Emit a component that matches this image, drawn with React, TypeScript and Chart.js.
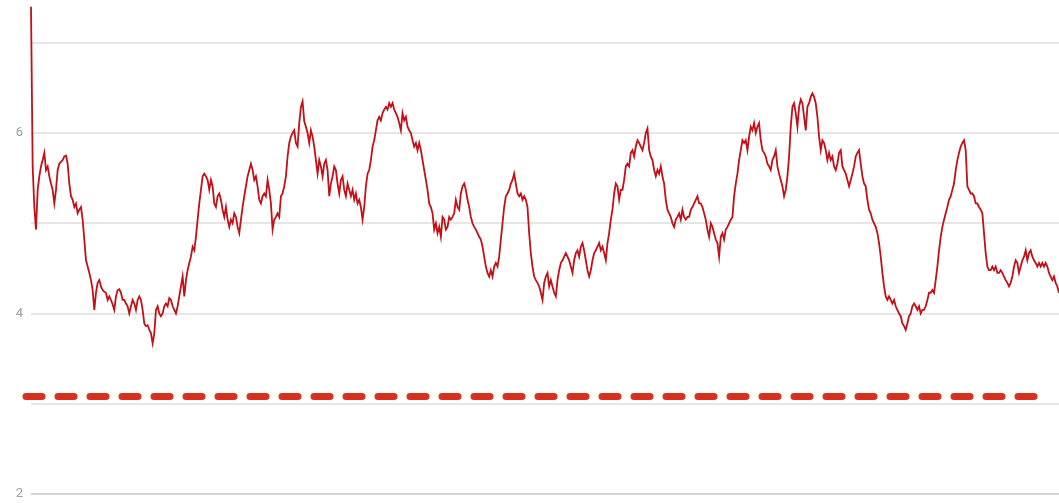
import React, { useEffect, useRef } from "react";
import { Chart, registerables } from "chart.js";

Chart.register(...registerables);

// Series values, left to right (evenly spaced samples)
const segmentA = [
  7.40, 5.63, 5.18, 4.93, 5.37, 5.52, 5.63, 5.70, 5.78, 5.59, 5.63, 5.52, 5.44, 5.37, 5.22, 5.37,
  5.59, 5.66, 5.68, 5.70, 5.74, 5.75, 5.66, 5.44, 5.30, 5.26, 5.18, 5.22, 5.11, 5.15, 5.18, 5.04,
  4.82, 4.59, 4.52, 4.45, 4.37, 4.26, 4.04, 4.23, 4.34, 4.37, 4.30, 4.26, 4.24, 4.23, 4.15, 4.19,
  4.15, 4.10, 4.04, 4.19, 4.26, 4.27, 4.23, 4.15, 4.15, 4.11, 4.08, 4.00, 4.08, 4.15, 4.11, 4.04,
  4.15, 4.19, 4.15, 4.04, 3.89, 3.86, 3.87, 3.82, 3.78, 3.67, 3.78, 4.04, 4.08, 4.00,
];
const segmentB = [
  3.97, 4.00, 4.08, 4.11, 4.08, 4.17, 4.15, 4.08, 4.04, 4.00, 4.08, 4.19, 4.30, 4.41, 4.19, 4.37,
  4.48, 4.56, 4.63, 4.74, 4.70, 4.85, 5.04, 5.22, 5.37, 5.52, 5.55, 5.52, 5.48, 5.37, 5.48, 5.41,
  5.22, 5.18, 5.30, 5.33, 5.26, 5.15, 5.07, 5.18, 5.04, 4.96, 5.04, 5.00, 5.11, 5.07, 4.96, 4.89,
  5.04, 5.18, 5.30, 5.41, 5.52, 5.59, 5.66, 5.59, 5.48, 5.52, 5.41, 5.26, 5.22, 5.30, 5.33, 5.30,
  5.48, 5.37, 5.22, 4.93, 5.04, 5.07, 5.11, 5.07, 5.30, 5.33, 5.41, 5.52, 5.74, 5.89, 5.96, 6.00,
  6.03,
];
const segmentC = [
  5.89, 5.85, 6.11, 6.29, 6.35, 6.13, 6.07, 6.00, 5.89, 6.03, 5.96, 5.85, 5.70, 5.55, 5.70, 5.63,
  5.52, 5.66, 5.70, 5.59, 5.30, 5.44, 5.52, 5.63, 5.59, 5.44, 5.33, 5.48, 5.52, 5.37, 5.30, 5.44,
  5.37, 5.30, 5.37, 5.26, 5.33, 5.22, 5.26, 5.18, 5.04, 5.18, 5.41, 5.55, 5.59, 5.70, 5.85, 5.92,
  6.03, 6.14, 6.18, 6.14, 6.22, 6.26, 6.29, 6.26, 6.33, 6.29, 6.33, 6.26, 6.22, 6.18, 6.11, 6.03,
  6.22, 6.14, 6.18, 6.07, 6.03, 6.00, 5.92, 5.85, 5.89, 5.81, 5.89, 5.81, 5.70, 5.59, 5.48, 5.37,
  5.22,
];
const segmentD = [
  5.18, 5.11, 4.93, 5.00, 4.89, 4.96, 4.85, 5.07, 5.04, 4.93, 4.96, 5.07, 5.04, 5.07, 5.11, 5.26,
  5.18, 5.15, 5.33, 5.41, 5.44, 5.37, 5.26, 5.18, 5.07, 5.00, 4.96, 4.93, 4.89, 4.85, 4.82, 4.74,
  4.63, 4.52, 4.45, 4.41, 4.48, 4.41, 4.52, 4.56, 4.52, 4.63, 4.82, 5.00, 5.18, 5.30, 5.33, 5.37,
  5.44, 5.48, 5.55, 5.44, 5.33, 5.30, 5.33, 5.26, 5.30, 5.26, 5.18, 4.89, 4.67, 4.52, 4.41, 4.37,
  4.34, 4.30, 4.23, 4.15, 4.34, 4.41, 4.45, 4.30, 4.37, 4.30, 4.23, 4.19, 4.37, 4.48, 4.56, 4.59,
  4.63,
];
const segmentE = [
  4.67, 4.63, 4.59, 4.52, 4.45, 4.59, 4.67, 4.70, 4.63, 4.74, 4.78, 4.70, 4.59, 4.48, 4.41, 4.48,
  4.59, 4.67, 4.70, 4.74, 4.78, 4.70, 4.74, 4.67, 4.59, 4.78, 4.89, 5.04, 5.15, 5.33, 5.44, 5.41,
  5.26, 5.37, 5.37, 5.48, 5.63, 5.66, 5.63, 5.78, 5.81, 5.74, 5.85, 5.92, 5.89, 5.85, 5.81, 5.89,
  6.00, 6.05, 5.81, 5.74, 5.70, 5.59, 5.52, 5.59, 5.55, 5.63, 5.52, 5.44, 5.26, 5.15, 5.11, 5.07,
  5.00, 4.96, 5.04, 5.07, 5.11, 5.04, 5.15, 5.07, 5.04, 5.07, 5.07, 5.15, 5.18, 5.22, 5.26, 5.30,
  5.22,
];
const segmentF = [
  5.22, 5.18, 5.11, 5.04, 4.93, 4.85, 5.00, 4.96, 4.89, 4.82, 4.78, 4.63, 4.85, 4.89, 4.82, 4.93,
  4.96, 5.00, 5.04, 5.07, 5.30, 5.44, 5.55, 5.70, 5.81, 5.92, 5.89, 5.92, 5.81, 5.96, 6.07, 6.03,
  6.11, 6.00, 6.07, 6.11, 5.92, 5.81, 5.78, 5.74, 5.66, 5.63, 5.59, 5.70, 5.74, 5.81, 5.63, 5.55,
  5.48, 5.41, 5.30, 5.37, 5.52, 5.74, 6.07, 6.29, 6.33, 6.22, 6.07, 6.29, 6.37, 6.33, 6.18, 6.03,
  6.29, 6.33, 6.40, 6.44, 6.40, 6.33, 6.18, 5.96, 5.81, 5.92, 5.89, 5.81, 5.70, 5.78, 5.70, 5.74,
  5.63,
];
const segmentG = [
  5.59, 5.66, 5.78, 5.81, 5.63, 5.59, 5.55, 5.48, 5.41, 5.48, 5.55, 5.63, 5.74, 5.78, 5.81, 5.66,
  5.52, 5.44, 5.41, 5.26, 5.15, 5.11, 5.04, 5.00, 4.96, 4.89, 4.78, 4.63, 4.45, 4.30, 4.19, 4.15,
  4.19, 4.15, 4.11, 4.15, 4.08, 4.04, 4.00, 3.97, 3.89, 3.86, 3.82, 3.89, 3.97, 4.00, 4.08, 4.11,
  4.08, 4.04, 4.08, 4.00, 4.04, 4.04, 4.08, 4.15, 4.23, 4.23, 4.26, 4.23, 4.37, 4.52, 4.70, 4.85,
  4.96, 5.04, 5.11, 5.18, 5.26, 5.30, 5.37, 5.44, 5.59, 5.70, 5.78,
];
const segmentH = [
  5.85, 5.89, 5.92, 5.81, 5.41, 5.37, 5.33, 5.33, 5.30, 5.22, 5.22, 5.18, 5.15, 5.11, 4.89, 4.67,
  4.52, 4.48, 4.48, 4.52, 4.48, 4.52, 4.45, 4.45, 4.48, 4.45, 4.41, 4.37, 4.34, 4.30, 4.34, 4.41,
  4.52, 4.59, 4.56, 4.45, 4.52, 4.59, 4.63, 4.70, 4.59, 4.67, 4.70, 4.63, 4.59, 4.56, 4.52, 4.56,
  4.52, 4.56, 4.52, 4.56, 4.52, 4.45, 4.41, 4.37, 4.41, 4.34, 4.30, 4.23,
];

const seriesValues = [
  ...segmentA, ...segmentB, ...segmentC, ...segmentD,
  ...segmentE, ...segmentF, ...segmentG, ...segmentH,
];
const categories = seriesValues.map((_, i) => String(i));

const yTickValues = [2, 4, 6];
const thresholdValue = 3.08;
const yMin = 2;
const yMax = 7.474;

const LINE_COLOR = "#c40f17";
const DASH_COLOR = "#d7301f";

const thresholdPlugin = {
  id: "thresholdLine",
  afterDatasetsDraw(chart: any) {
    const { ctx, chartArea, scales } = chart;
    const y = scales.y.getPixelForValue(thresholdValue);
    ctx.save();
    ctx.strokeStyle = DASH_COLOR;
    ctx.lineWidth = 7;
    ctx.lineCap = "round";
    ctx.setLineDash([16, 16]);
    ctx.beginPath();
    ctx.moveTo(chartArea.left - 5, y);
    ctx.lineTo(chartArea.right - 25, y);
    ctx.stroke();
    ctx.restore();
  },
};

export default function App() {
  const canvasRef = useRef<HTMLCanvasElement | null>(null);

  useEffect(() => {
    document.body.style.margin = "0";
    const canvas = canvasRef.current;
    if (!canvas) return;
    const chart = new Chart(canvas, {
      type: "line",
      data: {
        labels: categories,
        datasets: [
          {
            data: seriesValues,
            borderColor: LINE_COLOR,
            borderWidth: 1.8,
            pointRadius: 0,
            tension: 0,
            fill: false,
          },
        ],
      },
      options: {
        animation: false,
        responsive: true,
        maintainAspectRatio: false,
        layout: { padding: { top: 0, bottom: 9, left: 0, right: 0 } },
        plugins: { legend: { display: false }, tooltip: { enabled: false } },
        scales: {
          x: { display: false },
          y: {
            min: yMin,
            max: yMax,
            border: { display: false },
            grid: {
              drawTicks: false,
              lineWidth: 2,
              color: (c: any) => (c.tick && c.tick.value === 2 ? "#d4d4d4" : "#e6e6e6"),
            },
            ticks: {
              stepSize: 1,
              includeBounds: false,
              autoSkip: false,
              padding: 8,
              color: "#a0a0a0",
              font: { family: "Roboto", size: 13 },
              callback: (v: any) => (yTickValues.includes(Number(v)) ? String(v) : ""),
            },
            afterFit: (scale: any) => {
              scale.width = 31;
              scale.paddingTop = 0;
              scale.paddingBottom = 0;
            },
          },
        },
      },
      plugins: [thresholdPlugin],
    });
    return () => chart.destroy();
  }, []);

  return (
    <div style={{ position: "absolute", left: 0, top: 0, width: 1059, height: 503 }}>
      <canvas ref={canvasRef} />
    </div>
  );
}
